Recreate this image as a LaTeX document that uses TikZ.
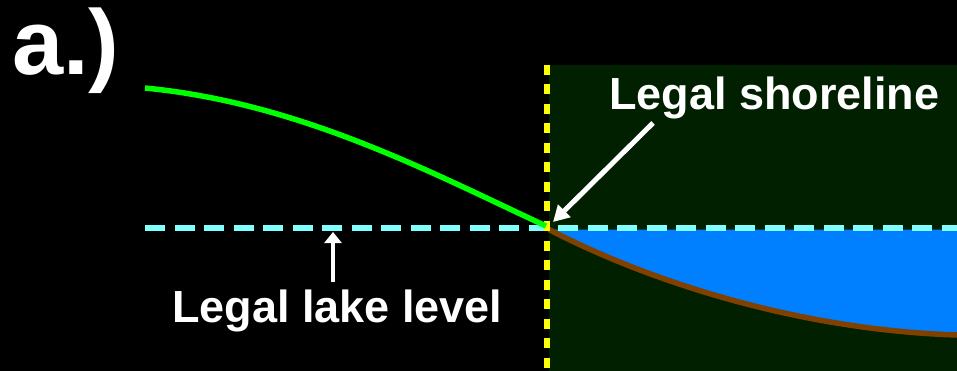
\documentclass[tikz,border=0pt]{standalone}
\usepackage{fontspec}
\setmainfont{Liberation Sans}
\usetikzlibrary{arrows.meta}
\definecolor{bgdark}{RGB}{0,32,0}
\definecolor{lakecyan}{RGB}{128,255,255}
\definecolor{shoreyellow}{RGB}{255,255,0}
\definecolor{waterblue}{RGB}{0,128,255}
\definecolor{bedbrown}{RGB}{128,64,0}
\definecolor{landgreen}{RGB}{0,255,0}
\tikzset{
  lbl/.style={text=white, font=\bfseries\fontsize{45}{54}\selectfont, inner sep=0pt, anchor=base west},
  bigarrow/.style={draw=white, line width=5pt, -{Triangle[length=16pt,width=17pt]}},
  smallarrow/.style={draw=white, line width=4.5pt, -{Triangle[length=11pt,width=17pt]}},
}
\begin{document}
\begin{tikzpicture}[x=1pt,y=-1pt]
\fill[black] (0,0) rectangle (957,371);
\useasboundingbox (0,0) rectangle (957,371);
% dark zone
\fill[bgdark] (549,65) rectangle (957,371);
% water
\coordinate (bedA) at (549,229.5);
\coordinate (bedB) at (957,335);
\fill[waterblue] (bedA) -- (957,229.5) -- (bedB) .. controls (800,330) and (650,282) .. (bedA) -- cycle;
\draw[bedbrown, line width=5.5pt] (bedA) .. controls (650,282) and (800,330) .. (bedB);
% legal lake level
\coordinate (llA) at (145,228);
\coordinate (llB) at (957,228);
\draw[lakecyan, line width=5pt, dash pattern=on 20pt off 9.5pt] (llA) -- (llB);
% shoreline vertical
\coordinate (shT) at (546.5,65);
\coordinate (shB) at (546.5,371);
\draw[shoreyellow, line width=6pt, dash pattern=on 10pt off 9.5pt] (shT) -- (shB);
% land surface
\coordinate (gA) at (145,88);
\coordinate (gB) at (546,226);
\draw[landgreen, line width=5.5pt] (gA) .. controls (300,103) and (430,172) .. (gB);
% labels
\node[lbl, font=\bfseries\fontsize{92}{100}\selectfont] (alabel) at (12,75) {a.)};
\node[lbl] (shore) at (609,110) {Legal shoreline};
\node[lbl] (lake) at (172,322) {Legal lake level};
% arrows
\coordinate (sArrS) at (653,123);
\coordinate (sArrE) at (553,222);
\draw[bigarrow] (sArrS) -- (sArrE);
\coordinate (lArrS) at (333,282);
\coordinate (lArrE) at (333,232);
\draw[smallarrow] (lArrS) -- (lArrE);
\end{tikzpicture}
\end{document}
